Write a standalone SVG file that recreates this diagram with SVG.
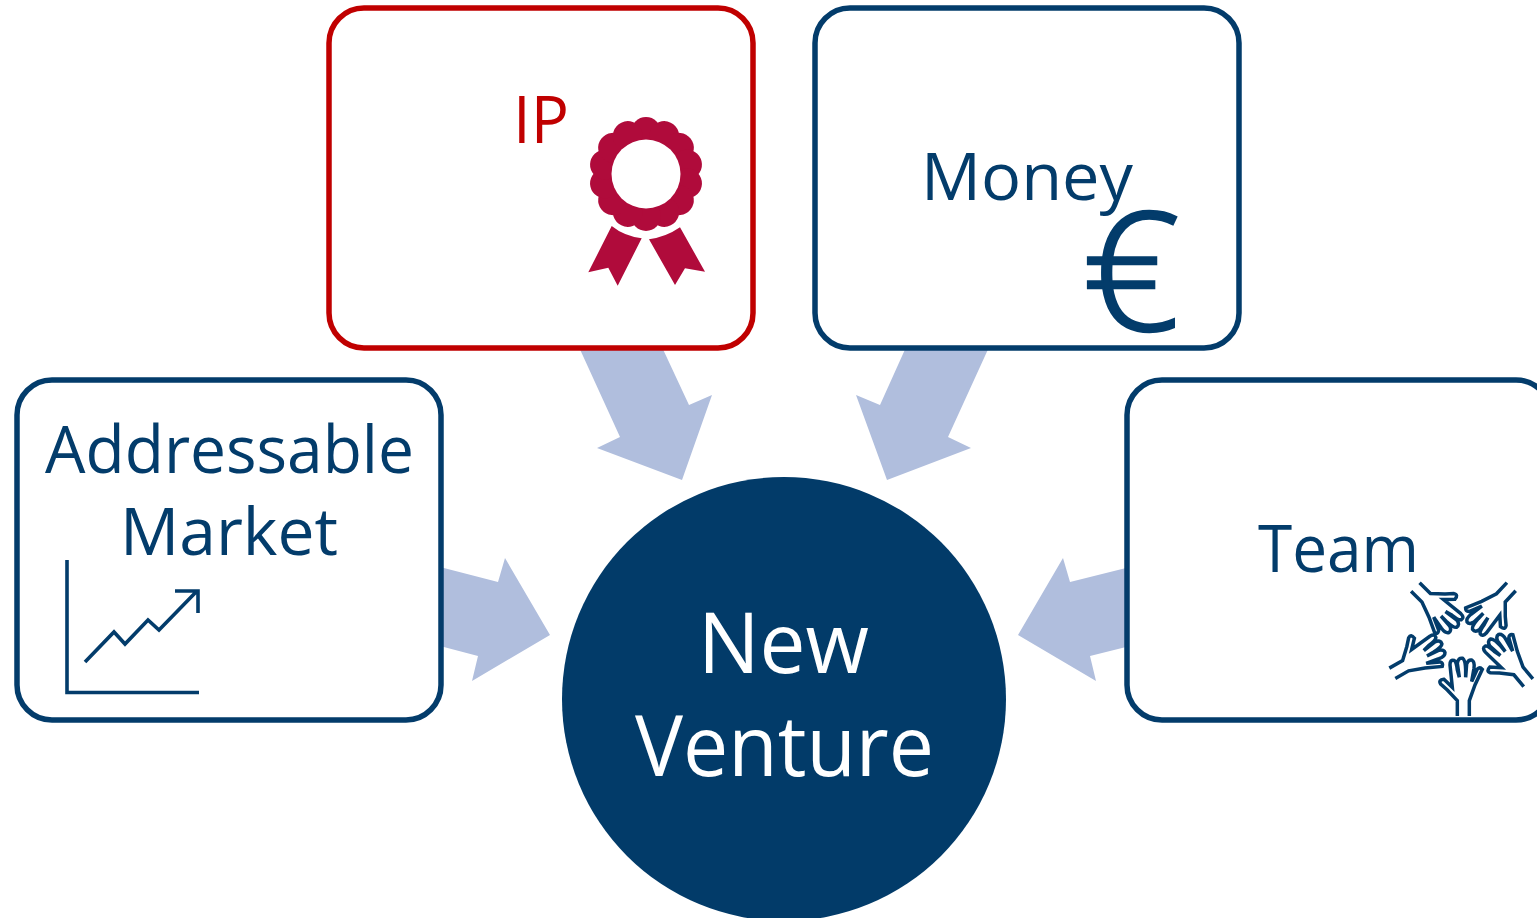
<svg xmlns="http://www.w3.org/2000/svg" width="1537" height="918" viewBox="0 0 1537 918">
<style>
.box{fill:#fff;stroke:#033c6b;stroke-width:5.500}
.t{font-family:"Open Sans","Noto Sans",sans-serif;font-size:66px;fill:#033c6b}
.w{font-size:84px;fill:#fff}
.arrow{fill:#b0bedd}
.ic{fill:none;stroke:#033c6b}
.sc{fill:#b00b3b}
</style>
<defs>
<path id="hand" d="M262 438V392L232 360L212 342Q204 330 222 328L247 352L240 285Q240 268 252 271Q259 275 262 300L268 322L262 280Q265 262 278 265Q286 270 287 300V322L290 282Q295 268 305 270Q315 275 312 295L305 335L322 297Q330 290 337 298L315 345L298 392V438"/>
<circle id="sc" class="sc" cx="646" cy="132" r="15"/>
</defs>
<rect width="1537" height="918" fill="#fff"/>
<g id="connectors">
<polygon class="arrow" points="578,345 620,437 597,448 682,480 712,395 689,405 661,345"/>
<polygon class="arrow" points="907,345 880,405 856,395 887,480 971,448 948,437 990,345"/>
<polygon class="arrow" points="440,567 498,582 505,558 550,635 472,681 478,656 440,646"/>
<polygon class="arrow" points="1130,567 1070,582 1063,558 1018,635 1096,681 1090,656 1130,646"/>
</g>
<g id="node-ip">
<rect x="329" y="8" width="424" height="340" rx="35" fill="#fff" stroke="#c00000" stroke-width="5.500"/>
<text class="t" x="513" y="143" textLength="56" lengthAdjust="spacingAndGlyphs" style="fill:#c00000">IP</text>
<g>
<circle class="sc" cx="646" cy="174" r="50"/>
<use href="#sc"/><use href="#sc" transform="rotate(25.7 646 174)"/><use href="#sc" transform="rotate(51.4 646 174)"/><use href="#sc" transform="rotate(77.1 646 174)"/><use href="#sc" transform="rotate(102.9 646 174)"/><use href="#sc" transform="rotate(128.6 646 174)"/><use href="#sc" transform="rotate(154.3 646 174)"/><use href="#sc" transform="rotate(180 646 174)"/><use href="#sc" transform="rotate(205.7 646 174)"/><use href="#sc" transform="rotate(231.4 646 174)"/><use href="#sc" transform="rotate(257.1 646 174)"/><use href="#sc" transform="rotate(282.9 646 174)"/><use href="#sc" transform="rotate(308.6 646 174)"/><use href="#sc" transform="rotate(334.3 646 174)"/>
<circle cx="646" cy="174" r="34.500" fill="#fff"/>
<path class="sc" d="M611.700 226Q624 236 641.700 238.300L617.700 285.700L608.300 267.700L588.300 272.300Z"/>
<path class="sc" d="M680 227.300Q666 237 649 239.300L675 285L685 268.300L705 271.700Z"/>
</g>
</g>
<g id="node-money">
<rect class="box" x="815" y="8" width="424" height="340" rx="35"/>
<text class="t" x="921" y="200" textLength="212" lengthAdjust="spacingAndGlyphs">Money</text>
<text class="t" x="1082" y="330" style="font-size:164px;font-weight:300;stroke:#033c6b;stroke-width:2.500" textLength="98" lengthAdjust="spacingAndGlyphs">€</text>
</g>
<g id="node-market">
<rect class="box" x="17" y="380" width="424" height="340" rx="35"/>
<text class="t" x="45" y="473" textLength="369" lengthAdjust="spacingAndGlyphs">Addressable</text>
<text class="t" x="120" y="555" textLength="218" lengthAdjust="spacingAndGlyphs">Market</text>
<g class="ic" stroke-width="3.600">
<path d="M67 560V692.500H199"/>
<path d="M85 662L114 632L125 644L148 620L159 630L197 591M175 591H198V613"/>
</g>
</g>
<g id="node-team">
<rect class="box" x="1127" y="380" width="424" height="340" rx="35"/>
<text class="t" x="1258" y="572" textLength="161" lengthAdjust="spacingAndGlyphs">Team</text>
<g transform="translate(1370 570) scale(.3333)" class="ic" stroke-width="10.500">
<use href="#hand"/>
<use href="#hand" transform="translate(67 310) rotate(60) translate(-280 -438)"/>
<use href="#hand" transform="translate(136 51) rotate(135) translate(-280 -438)"/>
<use href="#hand" transform="translate(424 50) rotate(-137) translate(-280 -438)"/>
<use href="#hand" transform="translate(475 338) rotate(-40) translate(-280 -438)"/>
</g>
</g>
<g id="node-venture">
<circle cx="784" cy="699" r="222" fill="#023b69"/>
<text class="t w" x="698" y="673" textLength="171" lengthAdjust="spacingAndGlyphs">New</text>
<text class="t w" x="635" y="776" textLength="299" lengthAdjust="spacingAndGlyphs">Venture</text>
</g>
</svg>
